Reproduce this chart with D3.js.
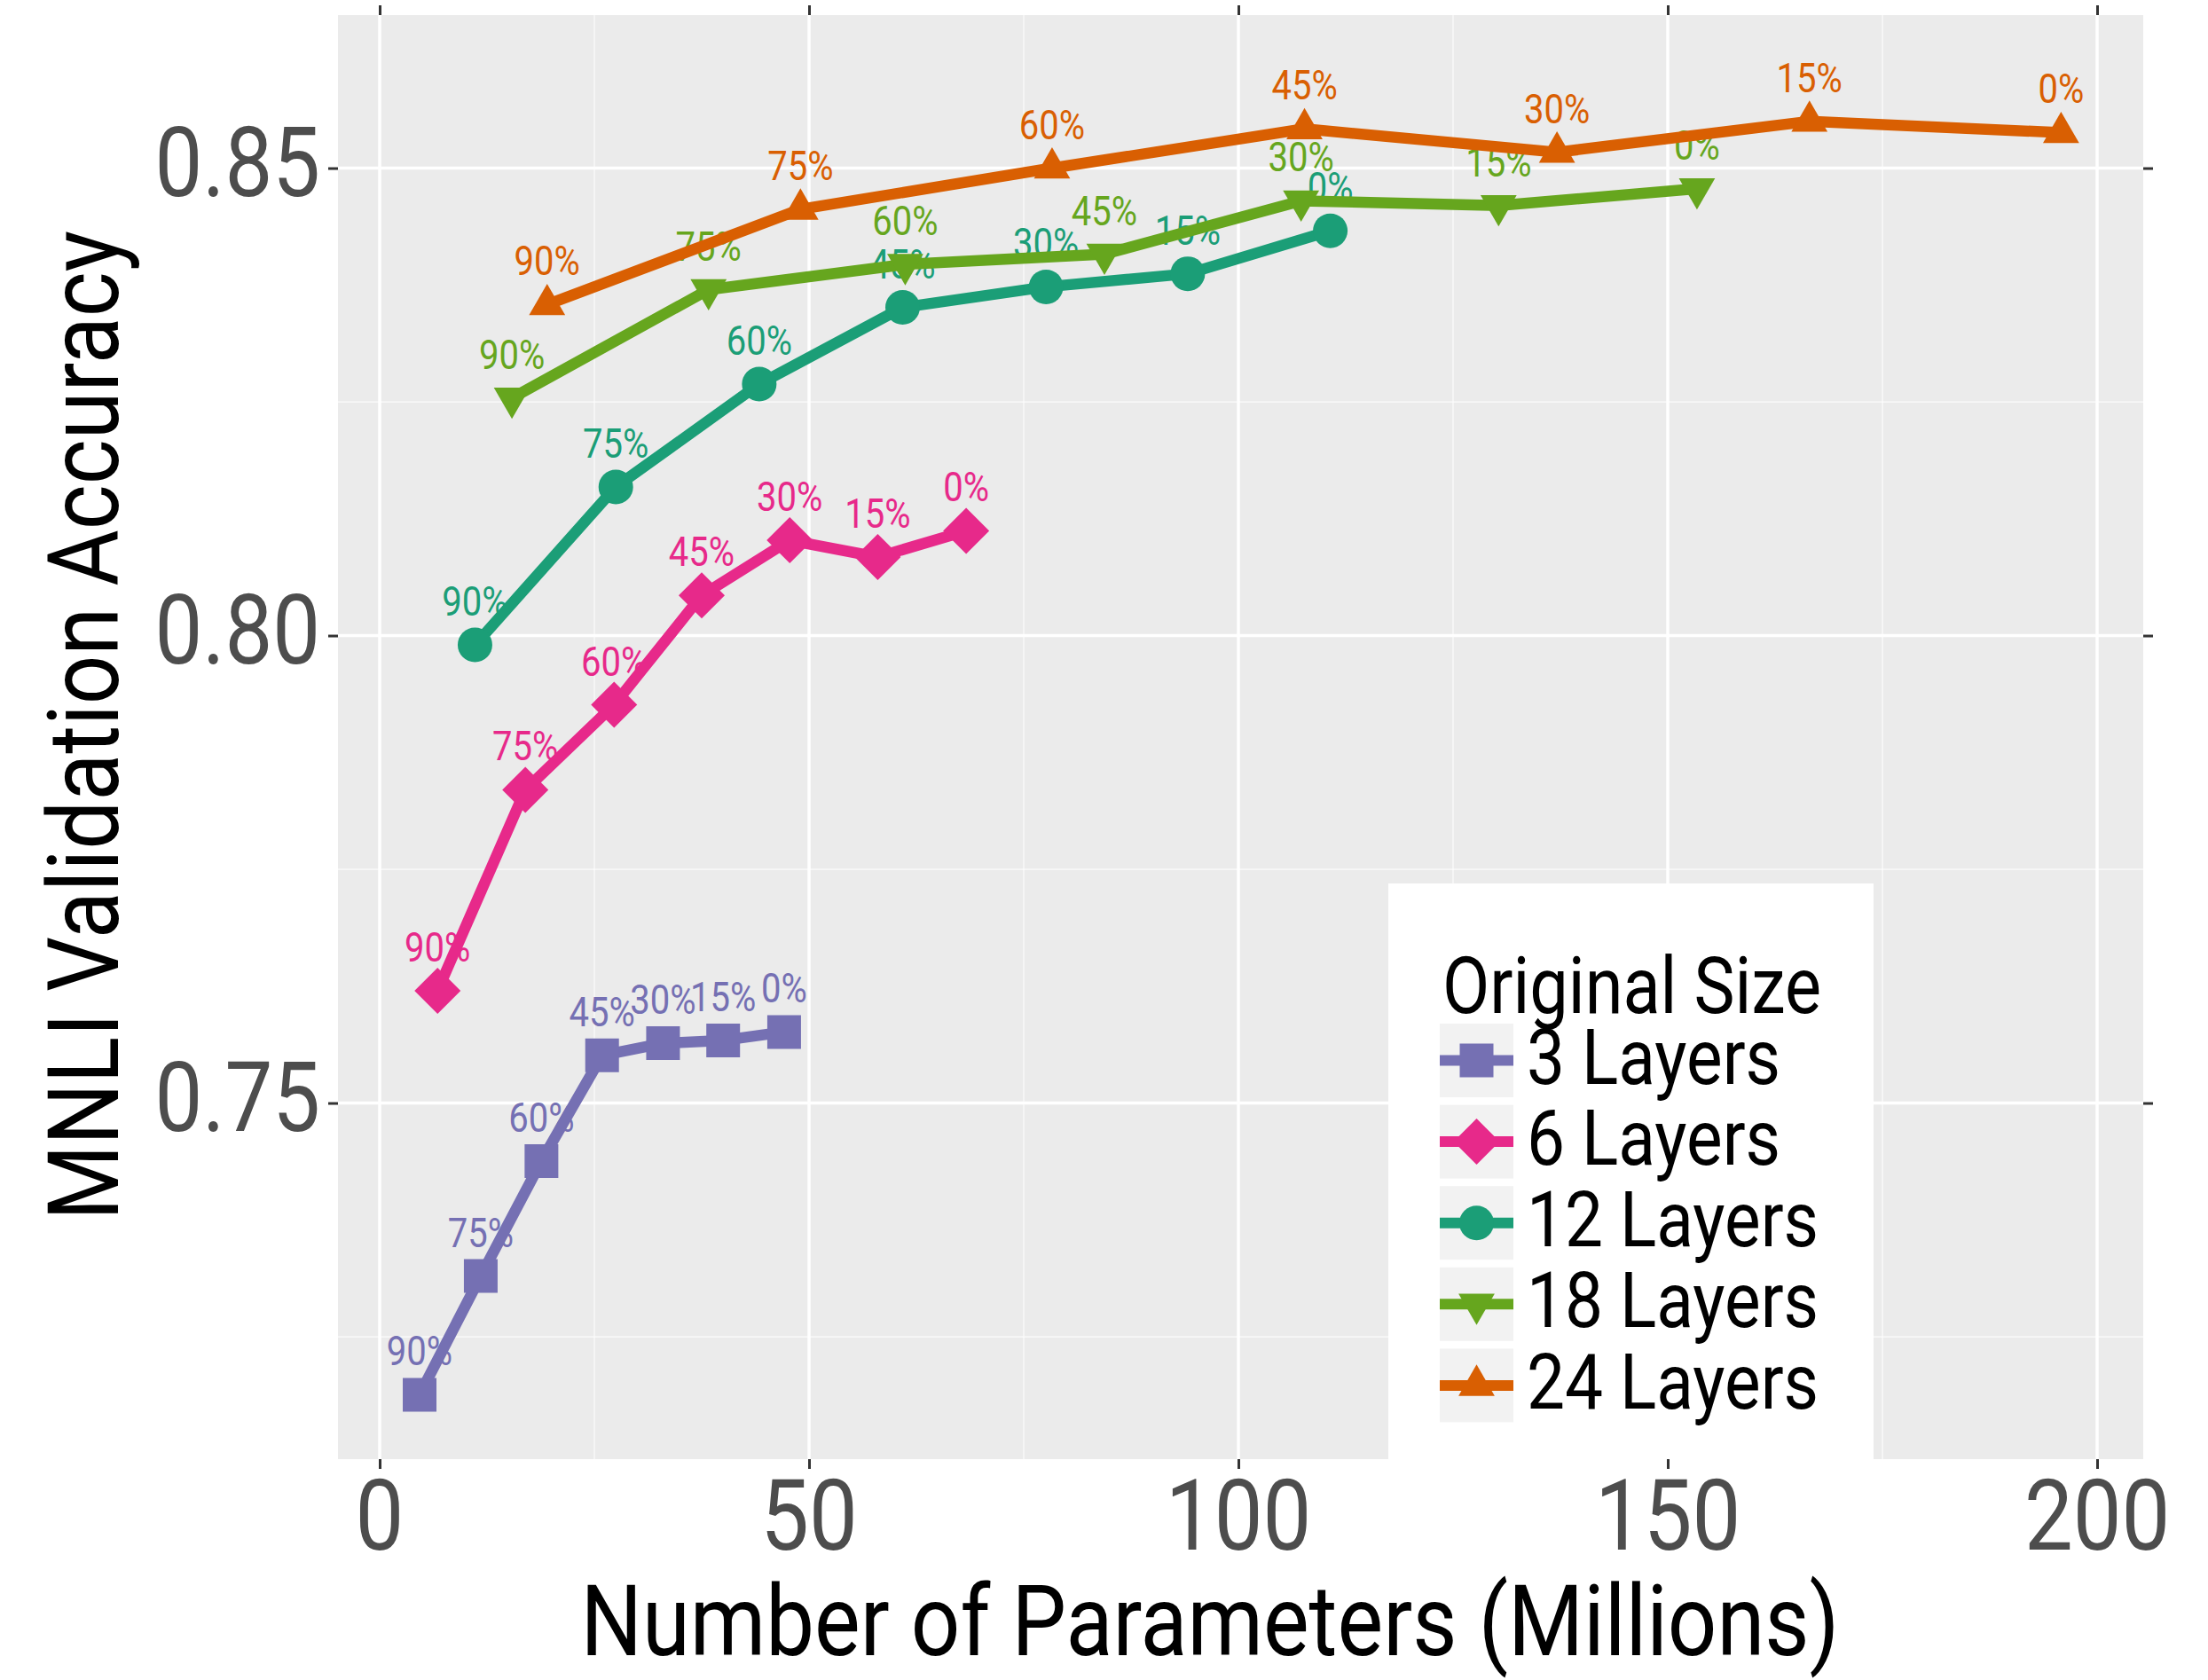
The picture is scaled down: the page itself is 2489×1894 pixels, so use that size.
<!DOCTYPE html>
<html>
<head>
<meta charset="utf-8">
<script src="https://cdn.jsdelivr.net/npm/d3@7"></script>
<style>
  body { margin: 0; background: #fff; }
  text { font-family: Roboto, "Noto Sans", sans-serif; }
</style>
</head>
<body>
<div id="chart"></div>
<script>
// data
var pruneLabels = ["90%", "75%", "60%", "45%", "30%", "15%", "0%"];
var seriesNames = ["3 Layers", "6 Layers", "12 Layers", "18 Layers", "24 Layers"];
var seriesColors = ["#7570B3", "#E7298A", "#1B9E77", "#66A61E", "#D95F02"];

var params3  = [4.65, 11.77, 18.84, 25.9, 33.0, 40.0, 47.1];
var acc3     = [0.7188, 0.7315, 0.7438, 0.7551, 0.7564, 0.7567, 0.7576];
var params6  = [6.74, 16.96, 27.3, 37.5, 47.75, 58.0, 68.3];
var acc6     = [0.7620, 0.7835, 0.7926, 0.8043, 0.8102, 0.8084, 0.8112];
var params12 = [11.1, 27.5, 44.2, 60.9, 77.6, 94.1, 110.7];
var acc12    = [0.7990, 0.8159, 0.8269, 0.8351, 0.8373, 0.8387, 0.8433];
var params18 = [15.4, 38.3, 61.2, 84.4, 107.3, 130.3, 153.4];
var acc18    = [0.8254, 0.8370, 0.8397, 0.8408, 0.8465, 0.8460, 0.8478];
var params24 = [19.5, 49.0, 78.3, 107.7, 137.1, 166.5, 195.8];
var acc24    = [0.8354, 0.8456, 0.8500, 0.8542, 0.8517, 0.8550, 0.8538];

var xTicks = [0, 50, 100, 150, 200];
var xMinor = [25, 75, 125, 175];
var yTicks = [0.75, 0.80, 0.85];
var yMinor = [0.725, 0.775, 0.825];

var allParams = [params3, params6, params12, params18, params24];
var allAcc = [acc3, acc6, acc12, acc18, acc24];

var series = seriesNames.map(function (name, i) {
  return {
    name: name,
    color: seriesColors[i],
    shape: i,
    points: allParams[i].map(function (p, j) {
      return { x: p, y: allAcc[i][j], label: pruneLabels[j] };
    })
  };
});

// layout
var W = 2489, H = 1894;
var panel = { left: 381, right: 2416, top: 17, bottom: 1645 };
var SQ = 0.87; // horizontal squeeze to mimic a condensed face

var svg = d3.select("#chart")
  .append("svg")
  .attr("width", W)
  .attr("height", H);

svg.append("rect").attr("width", W).attr("height", H).attr("fill", "#fff");

var x = d3.scaleLinear()
  .domain([-4.855, 205.37])
  .range([panel.left, panel.right]);

var y = d3.scaleLinear()
  .domain([0.71191, 0.86637])
  .range([panel.bottom, panel.top]);

// panel background
svg.append("rect")
  .attr("x", panel.left)
  .attr("y", panel.top)
  .attr("width", panel.right - panel.left)
  .attr("height", panel.bottom - panel.top)
  .attr("fill", "#EBEBEB");

var grid = svg.append("g");
grid.selectAll(".vminor").data(xMinor).enter().append("line")
  .attr("x1", d => x(d)).attr("x2", d => x(d))
  .attr("y1", panel.top).attr("y2", panel.bottom)
  .attr("stroke", "#fff").attr("stroke-width", 1.8).attr("opacity", 0.6);
grid.selectAll(".hminor").data(yMinor).enter().append("line")
  .attr("y1", d => y(d)).attr("y2", d => y(d))
  .attr("x1", panel.left).attr("x2", panel.right)
  .attr("stroke", "#fff").attr("stroke-width", 1.8).attr("opacity", 0.6);
grid.selectAll(".vmajor").data(xTicks).enter().append("line")
  .attr("x1", d => x(d)).attr("x2", d => x(d))
  .attr("y1", panel.top).attr("y2", panel.bottom)
  .attr("stroke", "#fff").attr("stroke-width", 3.5);
grid.selectAll(".hmajor").data(yTicks).enter().append("line")
  .attr("y1", d => y(d)).attr("y2", d => y(d))
  .attr("x1", panel.left).attr("x2", panel.right)
  .attr("stroke", "#fff").attr("stroke-width", 3.5);

// axes (ticks on all four sides, labels bottom and left)
var axisBottom = svg.append("g")
  .attr("transform", "translate(0," + panel.bottom + ")")
  .call(d3.axisBottom(x).tickValues(xTicks).tickSize(11).tickFormat(""));
var axisTop = svg.append("g")
  .attr("transform", "translate(0," + panel.top + ")")
  .call(d3.axisTop(x).tickValues(xTicks).tickSize(11).tickFormat(""));
var axisLeft = svg.append("g")
  .attr("transform", "translate(" + panel.left + ",0)")
  .call(d3.axisLeft(y).tickValues(yTicks).tickSize(11).tickFormat(""));
var axisRight = svg.append("g")
  .attr("transform", "translate(" + panel.right + ",0)")
  .call(d3.axisRight(y).tickValues(yTicks).tickSize(11).tickFormat(""));

[axisBottom, axisTop, axisLeft, axisRight].forEach(function (a) {
  a.select(".domain").remove();
  a.selectAll(".tick line").attr("stroke", "#333").attr("stroke-width", 3);
});

function squeezed(g, tx, ty, str, size, color, anchor, rot) {
  return g.append("text")
    .attr("transform", "translate(" + tx + "," + ty + ")" + (rot ? " rotate(" + rot + ")" : "") + " scale(" + SQ + ",1)")
    .attr("text-anchor", anchor || "start")
    .attr("font-size", size)
    .attr("fill", color)
    .text(str);
}

var labels = svg.append("g");
xTicks.forEach(function (t) {
  squeezed(labels, x(t), 1747, d3.format("d")(t), 112, "#4D4D4D", "middle");
});
yTicks.forEach(function (t) {
  squeezed(labels, 361, y(t) + 31, d3.format(".2f")(t), 110, "#4D4D4D", "end");
});
squeezed(labels, 1364, 1866, "Number of Parameters (Millions)", 112, "#000", "middle");
squeezed(labels, 133, 818, "MNLI Validation Accuracy", 112, "#000", "middle", -90);

// marker shapes: square, diamond, circle, triangle down, triangle up
var shapeDefs = [
  { type: d3.symbolSquare, size: 1444, rot: 0 },
  { type: d3.symbolSquare, size: 1352, rot: 45 },
  { type: d3.symbolCircle, size: 1195, rot: 0 },
  { type: d3.symbolTriangle, size: 720, rot: 180 },
  { type: d3.symbolTriangle, size: 720, rot: 0 }
];
function symbolPath(i) {
  return d3.symbol().type(shapeDefs[i].type).size(shapeDefs[i].size)();
}

var plot = svg.append("g");

// point labels sit under the lines
series.forEach(function (s) {
  s.points.forEach(function (p) {
    squeezed(plot, x(p.x), y(p.y) - 33, p.label, 46, s.color, "middle");
  });
});

var line = d3.line().x(d => x(d.x)).y(d => y(d.y));
series.forEach(function (s) {
  plot.append("path")
    .datum(s.points)
    .attr("d", line)
    .attr("fill", "none")
    .attr("stroke", s.color)
    .attr("stroke-width", 12.5)
    .attr("stroke-linejoin", "round");
});

series.forEach(function (s) {
  plot.selectAll(null)
    .data(s.points)
    .enter()
    .append("path")
    .attr("d", symbolPath(s.shape))
    .attr("transform", d => "translate(" + x(d.x) + "," + y(d.y) + ") rotate(" + shapeDefs[s.shape].rot + ")")
    .attr("fill", s.color);
});

// legend
var legend = svg.append("g");
legend.append("rect")
  .attr("x", 1565).attr("y", 996)
  .attr("width", 547).attr("height", panel.bottom - 996)
  .attr("fill", "#fff");
squeezed(legend, 1626, 1142, "Original Size", 89, "#000", "start");

var keyTop = 1154, keyStep = 91.6, keySize = 83, keyLeft = 1623;
series.forEach(function (s, i) {
  var ky = keyTop + i * keyStep;
  var cy = ky + keySize / 2;
  legend.append("rect")
    .attr("x", keyLeft).attr("y", ky)
    .attr("width", keySize).attr("height", keySize)
    .attr("fill", "#F2F2F2");
  legend.append("line")
    .attr("x1", keyLeft).attr("x2", keyLeft + keySize)
    .attr("y1", cy).attr("y2", cy)
    .attr("stroke", s.color).attr("stroke-width", 12);
  legend.append("path")
    .attr("d", symbolPath(s.shape))
    .attr("transform", "translate(" + (keyLeft + keySize / 2) + "," + cy + ") rotate(" + shapeDefs[s.shape].rot + ")")
    .attr("fill", s.color);
  squeezed(legend, 1721, cy + 26, s.name, 88, "#000", "start");
});
</script>
</body>
</html>
